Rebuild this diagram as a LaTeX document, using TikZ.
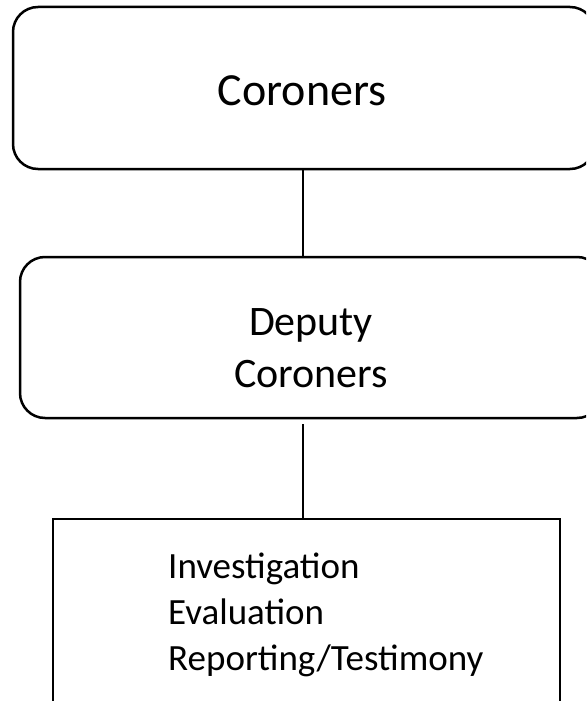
\documentclass[tikz,border=0pt]{standalone}
\usepackage{fontspec}
\setmainfont{Carlito}
\begin{document}
\begin{tikzpicture}[x=1pt,y=-1pt,
  boxline/.style={draw=black,line width=2.5pt},
  rbox/.style={boxline,rounded corners=25pt,inner sep=0pt},
  sbox/.style={boxline,inner sep=0pt},
  conn/.style={draw=black,line width=2.5pt}]
\useasboundingbox (0,0) rectangle (586,701);
\clip (0,0) rectangle (586,701);
\fill[white] (0,0) rectangle (586,701);
% boxes
\node[rbox,minimum width=582pt,minimum height=162pt] (top) at (304,88) {};
\node[rbox,minimum width=582pt,minimum height=161pt] (mid) at (311,337.5) {};
\node[sbox,minimum width=507pt,minimum height=240pt] (bot) at (306.5,639) {};
% texts
\node[anchor=base,font=\fontsize{46}{55}\selectfont,inner sep=0pt] (ttop) at (302,105) {Coroners};
\node[anchor=base,align=center,font=\fontsize{42}{52}\selectfont,inner sep=0pt] (tmid) at (311,387) {Deputy\\Coroners};
\node[anchor=base west,align=left,font=\fontsize{37}{46}\selectfont,inner sep=0pt] (tbot) at (168,670) {Investigation\\Evaluation\\Reporting/Testimony};
% connectors
\coordinate (lx) at (303,0);
\draw[conn] (lx |- top.south) -- (lx |- mid.north);
\draw[conn] ([yshift=-5pt]lx |- mid.south) -- (lx |- bot.north);
\end{tikzpicture}
\end{document}
